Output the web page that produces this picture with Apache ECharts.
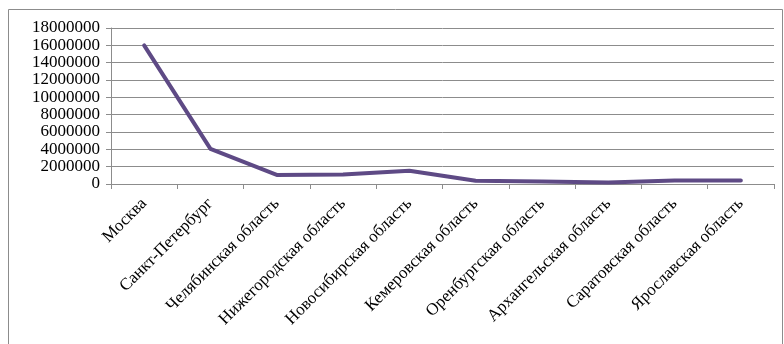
<!DOCTYPE html>
<html>
<head>
<meta charset="utf-8">
<script src="https://cdn.jsdelivr.net/npm/echarts@6/dist/echarts.min.js"></script>
<style>
  html, body { margin: 0; padding: 0; background: #fff; }
  #chart { width: 784px; height: 344px; }
</style>
</head>
<body>
<div id="chart"></div>
<script>
// Regions and their values
const regions = [
  'Москва',
  'Санкт-Петербург',
  'Челябинская область',
  'Нижегородская область',
  'Новосибирская область',
  'Кемеровская область',
  'Оренбургская область',
  'Архангельская область',
  'Саратовская область',
  'Ярославская область'
];
const values = [16000000, 4050000, 1050000, 1100000, 1530000, 380000, 300000, 160000, 390000, 390000];
const yTicks = [0, 2000000, 4000000, 6000000, 8000000, 10000000, 12000000, 14000000, 16000000, 18000000];

const font = '"Liberation Serif", "Times New Roman", serif';
const chart = echarts.init(document.getElementById('chart'), null, { renderer: 'canvas' });

chart.setOption({
  animation: false,
  backgroundColor: '#ffffff',
  graphic: [{
    type: 'rect',
    shape: { x: 8.5, y: 9.5, width: 774, height: 400 },
    style: { fill: 'none', stroke: '#8c8c8c', lineWidth: 1 },
    silent: true
  }],
  grid: { left: 111, right: 10, top: 28, bottom: 160, containLabel: false },
  xAxis: {
    type: 'category',
    data: regions,
    boundaryGap: true,
    axisLine: { lineStyle: { color: '#8c8c8c', width: 1 } },
    axisTick: { show: true, alignWithLabel: false, length: 5, lineStyle: { color: '#8c8c8c' } },
    axisLabel: {
      rotate: 45,
      interval: 0,
      margin: 17,
      color: '#000',
      fontFamily: font,
      fontSize: 17
    },
    splitLine: { show: false }
  },
  yAxis: {
    type: 'value',
    min: yTicks[0],
    max: yTicks[yTicks.length - 1],
    interval: yTicks[1] - yTicks[0],
    axisLine: { show: true, lineStyle: { color: '#8c8c8c', width: 1 } },
    axisTick: { show: true, length: 5, lineStyle: { color: '#8c8c8c' } },
    axisLabel: {
      margin: 11,
      color: '#000',
      fontFamily: font,
      fontSize: 17,
      formatter: v => String(v)
    },
    splitLine: { show: true, lineStyle: { color: '#8c8c8c', width: 1 } }
  },
  series: [{
    type: 'line',
    data: values,
    symbol: 'none',
    lineStyle: { color: '#5e4a85', width: 4, cap: 'round', join: 'round' },
    itemStyle: { color: '#5e4a85' }
  }]
});
</script>
</body>
</html>
